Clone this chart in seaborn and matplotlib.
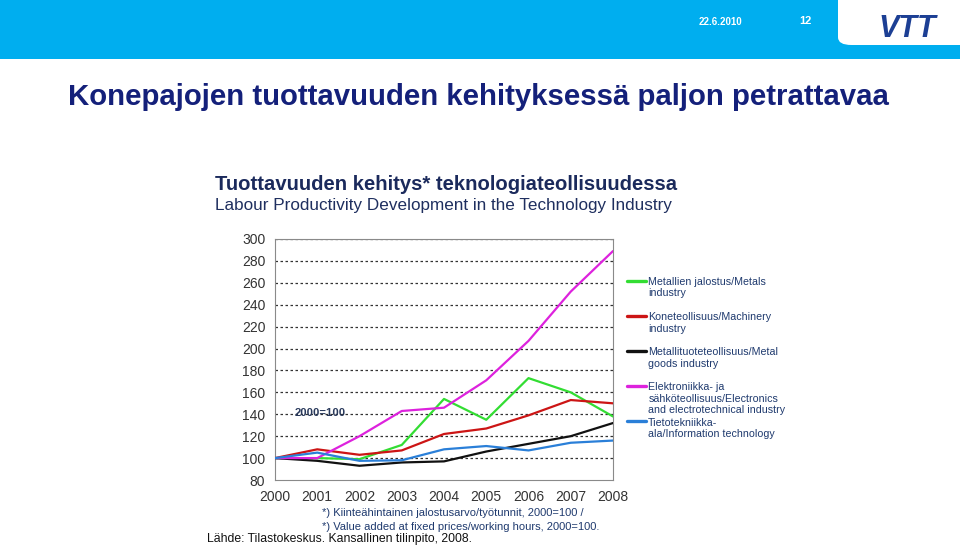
import matplotlib
matplotlib.use("Agg")
import matplotlib.pyplot as plt
from matplotlib.patches import Rectangle, FancyBboxPatch
import seaborn as sns
import pandas as pd

years = [2000, 2001, 2002, 2003, 2004, 2005, 2006, 2007, 2008]
metals = [100, 100, 99, 112, 154, 135, 173, 160, 138]
machinery = [100, 108, 103, 107, 122, 127, 139, 153, 150]
metal_goods = [100, 97.5, 93, 96, 97, 106, 113, 120, 132]
electronics = [100, 100, 120, 143, 146, 171, 207, 252, 289]
info_tech = [100, 105, 97.5, 98, 108, 111, 107, 114, 116]

series_names = [
    "Metallien jalostus/Metals\nindustry",
    "Koneteollisuus/Machinery\nindustry",
    "Metallituoteteollisuus/Metal\ngoods industry",
    "Elektroniikka- ja\nsähköteollisuus/Electronics\nand electrotechnical industry",
    "Tietotekniikka-\nala/Information technology",
]
series_values = [metals, machinery, metal_goods, electronics, info_tech]
colors = ["#33dd33", "#cc1515", "#111111", "#dd22dd", "#2a7fd8"]

y_ticks = [80, 100, 120, 140, 160, 180, 200, 220, 240, 260, 280, 300]

rows = []
for name, vals in zip(series_names, series_values):
    for y, v in zip(years, vals):
        rows.append({"year": y, "value": v, "series": name})
df = pd.DataFrame(rows)

sns.set_theme(style="white")
plt.rcParams["font.family"] = ["Liberation Sans", "DejaVu Sans"]

fig = plt.figure(figsize=(9.6, 5.46), dpi=100)
fig.patch.set_facecolor("white")

# header band
fig.patches.append(Rectangle((0, 1 - 59 / 546), 1, 59 / 546, transform=fig.transFigure,
                             facecolor="#00aeef", edgecolor="none", zorder=0))
fig.patches.append(FancyBboxPatch((838 / 960, 1 - 45 / 546), 0.2, 0.2,
                                  boxstyle="round,pad=0,rounding_size=0.014",
                                  transform=fig.transFigure, facecolor="white",
                                  edgecolor="none", zorder=1))
fig.text(720 / 960, 1 - 22 / 546, "22.6.2010", color="white", fontsize=7,
         fontweight="bold", ha="center", va="center")
fig.text(805 / 960, 1 - 21 / 546, "12", color="white", fontsize=8,
         fontweight="bold", ha="center", va="center")
fig.text(907 / 960, 1 - 29 / 546, "VTT", color="#1c3f94", fontsize=22,
         fontweight="bold", style="italic", ha="center", va="center", zorder=3)

fig.text(68 / 960, 1 - 97 / 546, "Konepajojen tuottavuuden kehityksessä paljon petrattavaa",
         color="#14207a", fontsize=21.2, fontweight="bold", ha="left", va="center")

fig.text(215 / 960, 1 - 184 / 546, "Tuottavuuden kehitys* teknologiateollisuudessa",
         color="#1b2a5c", fontsize=14.6, fontweight="bold", ha="left", va="center")
fig.text(215 / 960, 1 - 205.5 / 546, "Labour Productivity Development in the Technology Industry",
         color="#1f2f5f", fontsize=12.3, ha="left", va="center")

ax = fig.add_axes([275 / 960, 1 - 480 / 546, (613 - 275) / 960, (480 - 239) / 546])
sns.lineplot(data=df, x="year", y="value", hue="series", palette=colors,
             linewidth=1.6, ax=ax, legend=False, zorder=3)

ax.set_xlim(2000, 2008)
ax.set_ylim(80, 300)
ax.set_xticks(years)
ax.set_yticks(y_ticks)
ax.set_xticklabels([str(y) for y in years])
ax.set_yticklabels([str(t) for t in y_ticks])
ax.set_xlabel("")
ax.set_ylabel("")
ax.tick_params(axis="both", labelsize=10, colors="#333333", length=0, pad=7)
for t in ax.get_xticklabels() + ax.get_yticklabels():
    t.set_color("#333333")
for y in y_ticks[1:]:
    ax.axhline(y, color="#333333", linewidth=0.9, linestyle=(0, (2, 2)), zorder=1)
for s in ax.spines.values():
    s.set_color("#8a8a8a")
    s.set_linewidth(0.8)
ax.set_facecolor("none")

ax.text(2000.47, 141, "2000=100", color="#2a3a5c", fontsize=8.1, fontweight="bold",
        ha="left", va="center")

handles = [plt.Line2D([], [], color=c, linewidth=2.4) for c in colors]


def top_align(leg):
    for col in leg._legend_handle_box.get_children():
        for item in col.get_children():
            item.align = "top"
    for t in leg.get_texts():
        t.set_color("#1f3a6e")
        t.set_linespacing(1.2)


leg_kw = dict(frameon=False, fontsize=7.7, handlelength=1.8, handletextpad=0.2,
              borderpad=0, borderaxespad=0, loc="upper left")
leg1 = ax.legend(handles[:4], series_names[:4], bbox_to_anchor=(1.041, 0.843),
                 labelspacing=1.26, **leg_kw)
top_align(leg1)
ax.add_artist(leg1)
leg2 = ax.legend(handles[4:], series_names[4:], bbox_to_anchor=(1.041, 0.259), **leg_kw)
top_align(leg2)

fig.text(322 / 960, 1 - 513 / 546, "*) Kiinteähintainen jalostusarvo/työtunnit, 2000=100 /",
         color="#1f3a6e", fontsize=8, ha="left", va="center")
fig.text(322 / 960, 1 - 527 / 546, "*) Value added at fixed prices/working hours, 2000=100.",
         color="#1f3a6e", fontsize=8, ha="left", va="center")
fig.text(207 / 960, 1 - 539 / 546, "Lähde: Tilastokeskus. Kansallinen tilinpito, 2008.",
         color="#111111", fontsize=8.8, ha="left", va="center")

fig.savefig("out.png", dpi=100)
